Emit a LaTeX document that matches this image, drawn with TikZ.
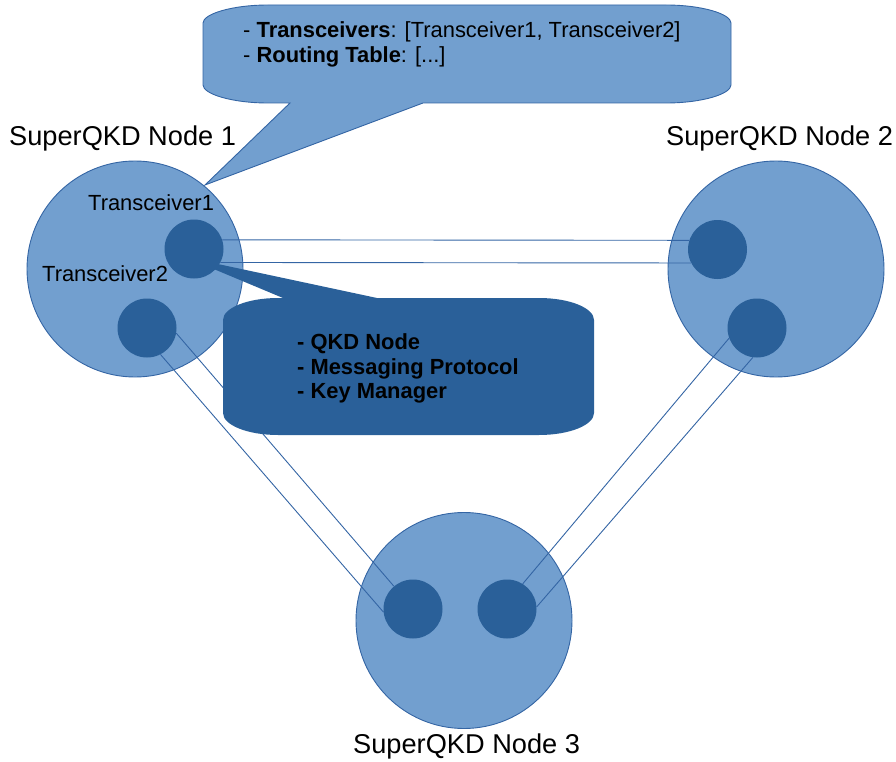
\documentclass[tikz,border=0pt]{standalone}
\usepackage{fontspec}
\setmainfont{Liberation Sans}
\definecolor{nodefill}{HTML}{729FCF}
\definecolor{nodeedge}{HTML}{3465A4}
\definecolor{portfill}{HTML}{2A6099}
\begin{document}
\begin{tikzpicture}[x=1pt,y=-1pt,
  bignode/.style={circle, minimum size=216pt, inner sep=0pt, fill=nodefill, draw=nodeedge, line width=0.9pt},
  port/.style={circle, minimum size=59pt, inner sep=0pt, fill=portfill},
  link/.style={draw=nodeedge, line width=0.9pt},
  nodetitle/.style={anchor=base west, inner sep=0pt, font=\fontsize{27.2}{31}\selectfont},
  bodytext/.style={anchor=base west, inner sep=0pt, font=\fontsize{21.9}{25}\selectfont},
  boldtext/.style={bodytext, font=\fontsize{21.9}{25}\selectfont\bfseries},
]
\useasboundingbox (0,0) rectangle (896,762);

% SuperQKD nodes
\node[bignode] (n1) at (135,269) {};
\node[bignode] (n2) at (776,269) {};
\node[bignode] (n3) at (464,620.5) {};

% callout describing node 1
\filldraw[fill=nodefill, draw=nodeedge, line width=0.9pt]
  (290,103) -- (205,185) -- (423,103) -- (666,103)
  .. controls (702,103) and (731,94) .. (731,85) -- (731,23)
  .. controls (731,14) and (702,5) .. (666,5) -- (268,5)
  .. controls (232,5) and (203,14) .. (203,23) -- (203,85)
  .. controls (203,94) and (232,103) .. (268,103) -- cycle;

% transceivers
\node[port] (t1) at (194,249) {};
\node[port] (t2) at (147,328) {};
\node[port] (t3) at (717.5,249.5) {};
\node[port] (t4) at (757,328) {};
\node[port] (t5) at (413,609) {};
\node[port] (t6) at (507,609) {};

% links between transceivers
\draw[link] (t1.18) -- (t3.162);
\draw[link] (t1.-27) -- (t3.207);
\draw[link] (t2.-10) -- (t5.130);
\draw[link] (t2.-63) -- (t5.186);
\draw[link] (t4.200) -- (t6.58);
\draw[link] (t4.-98) -- (t6.4);

% callout describing Transceiver1
\fill[portfill]
  (283,298) -- (185,257) -- (377,298) -- (539,298)
  .. controls (569.4,298) and (594,307.9) .. (594,320) -- (594,413)
  .. controls (594,425.1) and (569.4,435) .. (539,435) -- (278,435)
  .. controls (247.6,435) and (223,425.1) .. (223,413) -- (223,320)
  .. controls (223,307.9) and (247.6,298) .. (278,298) -- cycle;

% labels
\node[nodetitle] (lab1) at (9,146) {SuperQKD Node 1};
\node[nodetitle] (lab2) at (666,146) {SuperQKD Node 2};
\node[nodetitle] (lab3) at (353,753) {SuperQKD Node 3};
\node[bodytext] (lt1) at (88,211) {Transceiver1};
\node[bodytext] (lt2) at (42,281) {Transceiver2};

\node[bodytext] (info1) at (243,38) {- \textbf{Transceivers}: [Transceiver1, Transceiver2]};
\node[bodytext] (info2) at (243,63) {- \textbf{Routing Table}: [...]};

\node[boldtext] (role1) at (297,349) {- QKD Node};
\node[boldtext] (role2) at (297,374) {- Messaging Protocol};
\node[boldtext] (role3) at (297,398) {- Key Manager};
\end{tikzpicture}
\end{document}
